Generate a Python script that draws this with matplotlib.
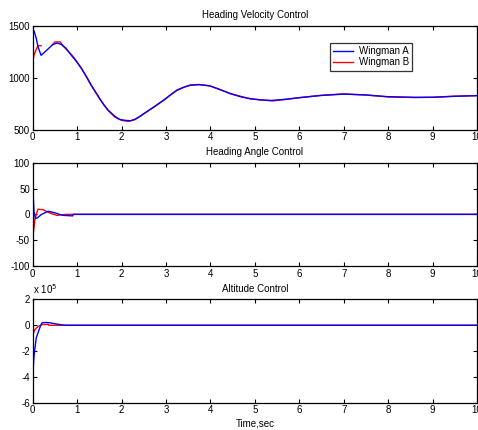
import numpy as np
import matplotlib
matplotlib.use("Agg")
import matplotlib.pyplot as plt

plt.rcParams['font.family'] = ['Liberation Sans', 'DejaVu Sans']
plt.rcParams['font.size'] = 7
plt.rcParams['axes.unicode_minus'] = False

# Heading velocity
t_vel_a = [0, 0.03, 0.08, 0.12, 0.19, 0.3, 0.45, 0.55, 0.65, 0.75, 0.87, 0.98, 1.1, 1.2,
           1.32, 1.42, 1.51, 1.6, 1.7, 1.85, 1.95, 2.08, 2.2, 2.3, 2.4, 2.5, 2.7, 2.95,
           3.1, 3.25, 3.4, 3.55, 3.74, 3.9, 4.0, 4.2, 4.45, 4.7, 4.9, 5.1, 5.37, 5.7,
           6.0, 6.5, 7.0, 7.5, 8.0, 8.6, 9.0, 9.5, 10]
vel_a = [1442, 1452, 1380, 1298, 1217, 1260, 1320, 1336, 1320, 1285, 1217, 1160, 1088, 1020,
         928, 860, 799, 740, 687, 629, 600, 590, 586, 600, 625, 655, 710, 784,
         835, 880, 910, 928, 934, 928, 921, 890, 847, 815, 799, 788, 782, 793,
         809, 830, 843, 835, 818, 812, 812, 822, 828]
t_vel_b = [0, 0.03, 0.08, 0.12, 0.19, 0.3, 0.45, 0.5, 0.62, 0.7, 0.87, 0.98, 1.1, 1.32,
           1.51, 1.7, 1.85, 2.0, 2.15, 2.3, 2.5, 2.7, 2.95, 3.25, 3.55, 3.74, 4.0,
           4.45, 4.9, 5.4, 6.0, 6.5, 7.0, 7.5, 8.0, 8.6, 9.0, 9.5, 10]
vel_b = [1153, 1220, 1275, 1310, 1310, np.nan, 1322, 1346, 1346, 1300, 1225, 1165, 1090, 925,
         796, 684, 622, 590, 580, 596, 652, 712, 786, 884, 932, 936, 920,
         848, 797, 777, 808, 832, 845, 834, 816, 810, 813, 823, 829]

# Heading angle
t_ang_a = [0, 0.005, 0.01, 0.03, 0.06, 0.1, 0.2, 0.35, 0.5, 0.6, 0.7, 0.9, 0.91, 10]
ang_a = [80, 55, 40, 5, -8, -7, 0, 6, 3, 0, -2, -3, 0, 0]
t_ang_b = [0, 0.01, 0.05, 0.1, 0.12, 0.23, 0.4, 0.55, 0.75, 10]
ang_b = [-60, -40, -10, 5, 10, 9, 2, -2, 0, 0]

# Altitude (x 10^5)
t_alt_a = [0, 0.03, 0.08, 0.16, 0.21, 0.3, 0.38, 0.5, 0.65, 0.75, 10]
alt_a = [-3.93, -2.38, -0.97, -0.19, 0.2, 0.22, 0.2, 0.12, 0.04, 0, 0]
t_alt_b = [0, 0.05, 0.12, 0.2, 0.35, 0.36, 10]
alt_b = [-0.78, -0.32, -0.1, 0.05, 0.08, 0, 0]

fig = plt.figure(figsize=(4.78, 4.30), dpi=100)
left, width = 0.0684, 0.9295
ax1 = fig.add_axes([left, 0.6984, width, 0.2412])
ax2 = fig.add_axes([left, 0.3814, width, 0.2402])
ax3 = fig.add_axes([left, 0.0635, width, 0.2400])

ax1.plot(t_vel_b, vel_b, color='red', lw=1, label='Wingman B')
ax1.plot(t_vel_a, vel_a, color='blue', lw=1, label='Wingman A')
ax2.plot(t_ang_b, ang_b, color='red', lw=1)
ax2.plot(t_ang_a, ang_a, color='blue', lw=1)
ax3.plot(t_alt_b, alt_b, color='red', lw=1)
ax3.plot(t_alt_a, alt_a, color='blue', lw=1)

ax1.set_ylim(500, 1500)
ax1.set_yticks([500, 1000, 1500])
ax2.set_ylim(-100, 100)
ax2.set_yticks([-100, -50, 0, 50, 100])
ax3.set_ylim(-6, 2)
ax3.set_yticks([-6, -4, -2, 0, 2])

titles = ['Heading Velocity Control', 'Heading Angle Control', 'Altitude Control']
for ax, title in zip([ax1, ax2, ax3], titles):
    ax.set_xlim(0, 10)
    ax.set_xticks(range(11))
    ax.set_title(title, fontsize=7, pad=5.5)
    ax.tick_params(direction='in', length=3, width=0.8, top=True, right=True,
                   labelsize=7, pad=2)
    for s in ax.spines.values():
        s.set_linewidth(0.9)

ax3.text(0, 1.03, 'x 10$^5$', transform=ax3.transAxes, fontsize=7, ha='left', va='bottom')
ax3.set_xlabel('Time,sec', fontsize=7, labelpad=2)

h, l = ax1.get_legend_handles_labels()
leg = ax1.legend(h[::-1], l[::-1], loc='upper left', bbox_to_anchor=(0.669, 0.84),
                 fontsize=7, frameon=True, fancybox=False, edgecolor='black',
                 handlelength=2.0, borderpad=0.35, labelspacing=0.15, handletextpad=0.6,
                 borderaxespad=0)
leg.get_frame().set_linewidth(0.9)

fig.savefig('out.png', dpi=100)
